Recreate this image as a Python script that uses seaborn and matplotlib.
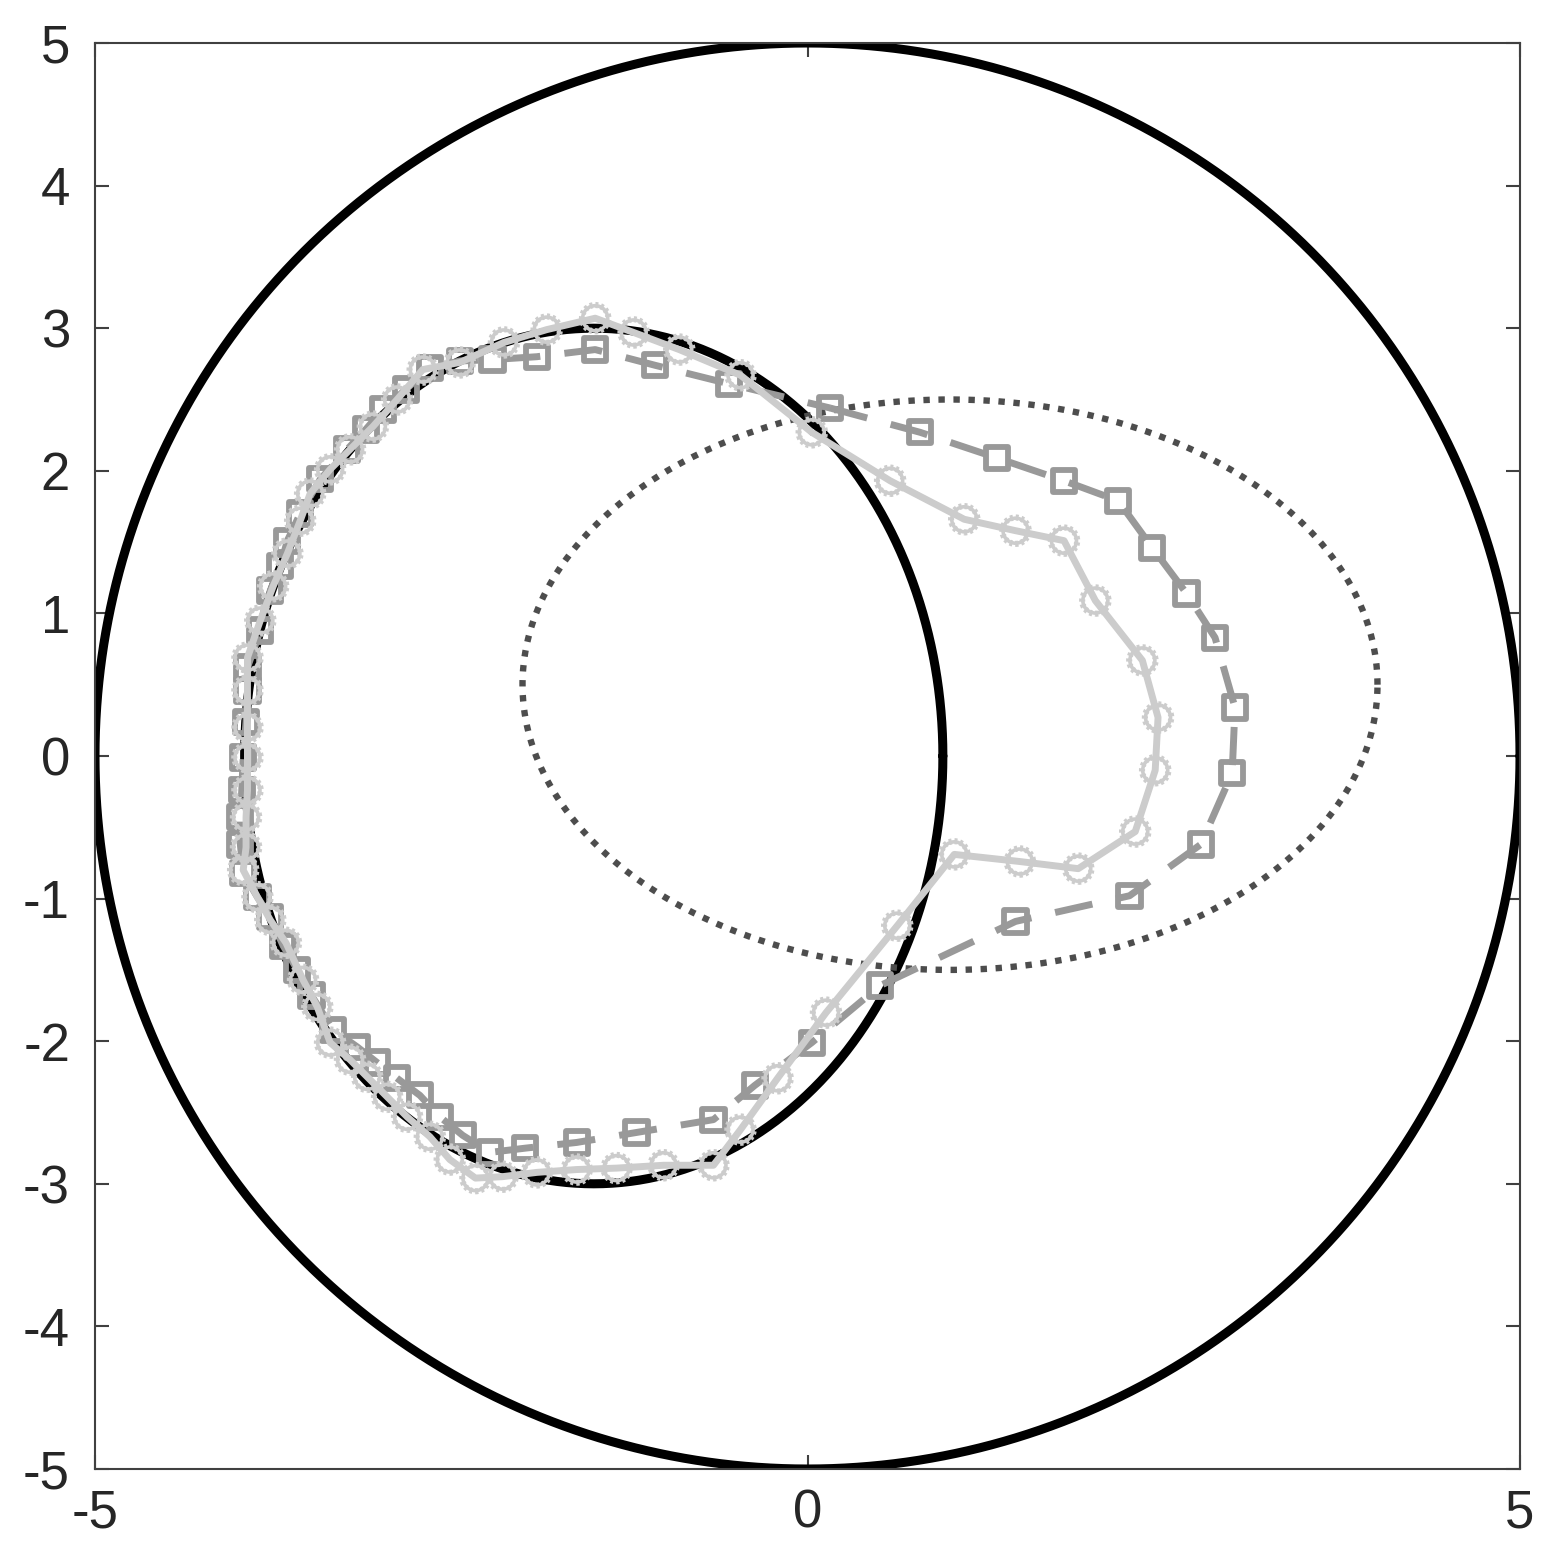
import numpy as np
import pandas as pd
import matplotlib
matplotlib.use("Agg")
import matplotlib.pyplot as plt
import seaborn as sns

# ---------------- data ----------------
# reconstruction 1 (light gray, solid, circle markers)
recon_a_x = [0.03, 0.58, 1.10, 1.46, 1.80, 2.02, 2.35, 2.46, 2.44, 2.30, 1.90, 1.49, 1.03,
             0.63, 0.13, -0.21, -0.47, -0.66, -1.01, -1.34, -1.62, -1.90, -2.14, -2.33,
             -2.51, -2.65, -2.81, -2.95, -3.09, -3.21, -3.35, -3.44, -3.54, -3.66, -3.77,
             -3.86, -3.96, -3.94, -3.94, -3.93, -3.93, -3.93, -3.93, -3.93, -3.84, -3.75,
             -3.65, -3.56, -3.49, -3.35, -3.21, -3.05, -2.88, -2.70, -2.44, -2.13, -1.83,
             -1.49, -1.22, -0.90, -0.47]
recon_a_y = [2.27, 1.93, 1.66, 1.58, 1.51, 1.09, 0.67, 0.27, -0.10, -0.53, -0.79, -0.74, -0.69,
             -1.19, -1.80, -2.26, -2.62, -2.87, -2.87, -2.89, -2.90, -2.92, -2.95, -2.96,
             -2.83, -2.67, -2.53, -2.39, -2.25, -2.13, -2.01, -1.76, -1.57, -1.31, -1.15,
             -0.99, -0.80, -0.64, -0.43, -0.24, -0.01, 0.20, 0.46, 0.69, 0.95, 1.19,
             1.42, 1.65, 1.84, 2.01, 2.15, 2.31, 2.50, 2.71, 2.76, 2.90, 2.99,
             3.07, 2.97, 2.85, 2.67]

# reconstruction 2 (medium gray, dashed, square markers)
recon_b_x = [0.16, 0.79, 1.33, 1.80, 2.18, 2.42, 2.66, 2.86, 3.00, 2.98, 2.76, 2.26, 1.46,
             0.51, 0.03, -0.37, -0.66, -1.20, -1.62, -1.98, -2.23, -2.42, -2.58, -2.72,
             -2.88, -3.02, -3.16, -3.33, -3.48, -3.58, -3.68, -3.77, -3.86, -3.96, -3.98,
             -3.98, -3.97, -3.96, -3.94, -3.93, -3.93, -3.84, -3.77, -3.70, -3.65, -3.56,
             -3.42, -3.23, -3.10, -2.98, -2.82, -2.65, -2.44, -2.21, -1.90, -1.49, -1.07,
             -0.55]
recon_b_y = [2.44, 2.27, 2.09, 1.93, 1.79, 1.46, 1.14, 0.83, 0.34, -0.12, -0.62, -0.98, -1.16,
             -1.61, -2.01, -2.31, -2.55, -2.64, -2.71, -2.75, -2.78, -2.66, -2.53, -2.38,
             -2.26, -2.15, -2.04, -1.92, -1.68, -1.50, -1.33, -1.13, -0.99, -0.82, -0.62,
             -0.43, -0.24, -0.01, 0.24, 0.46, 0.62, 0.88, 1.16, 1.33, 1.51, 1.70,
             1.94, 2.15, 2.29, 2.43, 2.57, 2.72, 2.77, 2.78, 2.80, 2.85, 2.74,
             2.61]

# reference shapes (center x, center y, semi-axis x, semi-axis y)
outer_circle = (0.0, 0.0, 5.0, 5.0)
true_obstacle = (-1.5, 0.0, 2.45, 3.0)
initial_guess = (1.0, 0.5, 3.0, 2.0)

xticks = [-5, 0, 5]
yticks = [-5, -4, -3, -2, -1, 0, 1, 2, 3, 4, 5]


def ellipse_frame(params, n=721):
    cx, cy, a, b = params
    t = np.linspace(0, 2 * np.pi, n)
    return pd.DataFrame({"x": cx + a * np.cos(t), "y": cy + b * np.sin(t)})


def closed_frame(xs, ys):
    xs = list(xs) + [xs[0]]
    ys = list(ys) + [ys[0]]
    return pd.DataFrame({"x": xs, "y": ys})


def curve(df, **kw):
    sns.lineplot(data=df, x="x", y="y", sort=False, estimator=None, errorbar=None,
                 ax=ax, legend=False, **kw)
    return ax.lines[-1]


# ---------------- style ----------------
sns.set_theme(style="white")
plt.rcParams["font.family"] = ["Liberation Sans", "DejaVu Sans"]

fig = plt.figure(figsize=(15.58, 15.66), dpi=100)
ax = fig.add_axes([95 / 1558, 97 / 1566, 1425 / 1558, 1426 / 1566])

# outer domain circle
curve(ellipse_frame(outer_circle), color="black", lw=6.5, zorder=1)
# true obstacle
curve(ellipse_frame(true_obstacle), color="black", lw=6.5, zorder=2)
# initial guess (dotted)
ln = curve(ellipse_frame(initial_guess, 1441), color="#4d4d4d", lw=4.6, zorder=3)
ln.set_linestyle((0, (1.0, 1.35)))
ln.set_dash_capstyle("butt")

# reconstruction 2: dashed + squares
ln = curve(closed_frame(recon_b_x, recon_b_y), color="#999999", lw=5.0, zorder=4)
ln.set_linestyle((0, (5.5, 3.5)))
ln.set_dash_capstyle("butt")
sns.scatterplot(x=recon_b_x, y=recon_b_y, ax=ax, marker="s", s=16 ** 2,
                facecolors="none", edgecolor="#999999", linewidth=4.2, zorder=5,
                legend=False)

# reconstruction 1: solid + circles with serrated (dotted) edges
curve(closed_frame(recon_a_x, recon_a_y), color="#cccccc", lw=5.0, zorder=6)
sns.scatterplot(x=recon_a_x, y=recon_a_y, ax=ax, marker="o", s=18 ** 2,
                facecolors="none", edgecolor="#cccccc", linewidth=2.6, zorder=7,
                legend=False)
sns.scatterplot(x=recon_a_x, y=recon_a_y, ax=ax, marker="o", s=19 ** 2,
                facecolors="none", edgecolor="#cccccc", linewidth=4.4,
                linestyle=(0, (0.45, 0.45)), zorder=7, legend=False)

# ---------------- axes ----------------
ax.set_xlim(-5, 5)
ax.set_ylim(-5, 5)
ax.set_xticks(xticks)
ax.set_yticks(yticks)
ax.set_xticklabels([str(v) for v in xticks])
ax.set_yticklabels([str(v) for v in yticks])
ax.set_xlabel("")
ax.set_ylabel("")
for sp in ax.spines.values():
    sp.set_visible(True)
    sp.set_color("#404040")
    sp.set_linewidth(1.5)
ax.tick_params(axis="both", which="major", direction="in", length=10, width=1.5,
               color="#404040", labelsize=38, labelcolor="#262626",
               top=True, right=True, bottom=True, left=True)
ax.tick_params(axis="x", pad=14)
ax.tick_params(axis="y", pad=18)
ax.grid(False)

fig.savefig("out.png", dpi=100, facecolor="white")
